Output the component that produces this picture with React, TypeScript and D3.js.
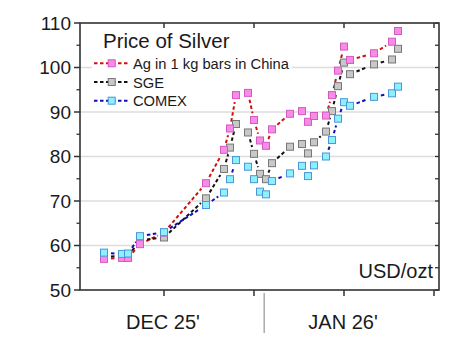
import React from "react";
import * as d3 from "d3";

// Data (day index: Dec N = N, Jan N = 31 + N)
const days = [3, 6, 7, 9, 13, 20, 23, 24, 25, 27, 28, 29, 30, 31, 34, 36, 37, 38, 40, 41, 42, 43, 44, 48, 51, 52];
const china = [57.0, 57.2, 57.2, 60.3, 62.9, 74.0, 81.5, 86.3, 93.8, 94.3, 88.2, 83.6, 82.4, 86.1, 89.6, 90.2, 87.8, 89.1, 89.2, 93.8, 99.3, 104.7, 101.7, 103.2, 105.8, 108.2];
const sge = [57.5, 57.6, 57.6, 61.2, 61.8, 70.6, 77.2, 82.0, 87.3, 85.4, 80.6, 76.1, 74.9, 78.5, 82.2, 82.8, 80.7, 83.2, 85.6, 90.2, 95.8, 101.1, 98.5, 100.7, 101.8, 104.2];
const comex = [58.4, 58.1, 58.2, 62.1, 63.0, 69.1, 71.9, 74.9, 79.2, 77.7, 74.9, 72.1, 71.5, 74.5, 76.2, 77.9, 75.6, 78.0, 80.0, 83.7, 88.5, 92.2, 91.4, 93.4, 94.2, 95.7];

const seriesNames = ["Ag in 1 kg bars in China", "SGE", "COMEX"];
const yTicks = [50, 60, 70, 80, 90, 100, 110];
const yMinorTicks = [55, 65, 75, 85, 95, 105];
const gridValues = [60, 70, 80, 90, 100];
const xTicks = [13, 28, 43, 58];
const monthLabels = ["DEC 25'", "JAN 26'"];
const monthLabelDays = [13, 43];
const monthSeparatorDay = 29.7;
const title = "Price of Silver";
const unitLabel = "USD/ozt";

const styles = [
  { line: "#d01010", fill: "#f78be6", stroke: "#d35ac4" },
  { line: "#111111", fill: "#c8c8c8", stroke: "#777777" },
  { line: "#1010b0", fill: "#8cf0ff", stroke: "#4a96d6" },
];

const FONT = "'Liberation Sans', Arial, sans-serif";

export default function App() {
  const W = 465, H = 340;
  const left = 80, right = 439, top = 23, bottom = 290;
  const x = d3.scaleLinear().domain([-1, 59]).range([80, 440]);
  const y = d3.scaleLinear().domain([50, 110]).range([bottom, top]);

  const series = [china, sge, comex];
  const gap = 7;

  const segments = (s: number[]) => {
    const pts = days.map((d, j) => [x(d), y(s[j])] as [number, number]);
    const out: { x1: number; y1: number; x2: number; y2: number }[] = [];
    for (let j = 0; j < pts.length - 1; j++) {
      const [ax, ay] = pts[j];
      const [bx, by] = pts[j + 1];
      const len = Math.hypot(bx - ax, by - ay);
      if (len <= 2 * gap + 1) continue;
      const ux = (bx - ax) / len, uy = (by - ay) / len;
      out.push({ x1: ax + ux * gap, y1: ay + uy * gap, x2: bx - ux * gap, y2: by - uy * gap });
    }
    return out;
  };

  const ms = 7;
  const drawOrder = [1, 0, 2];
  const axisColor = "#333";
  const textColor = "#1a1a1a";

  return (
    <svg width={W} height={H} style={{ position: "absolute", left: 0, top: 0, background: "#fff" }} fontFamily={FONT}>
      <rect x={0} y={0} width={W} height={H} fill="#fff" />
      {/* grid */}
      {gridValues.map((v) => (
        <line key={"g" + v} x1={left} x2={right} y1={y(v)} y2={y(v)} stroke="#dcdcdc" strokeWidth={1.5} />
      ))}
      {/* legend background */}
      <rect x={92} y={27} width={200} height={82} fill="#fff" />
      {/* lines */}
      {series.map((s, i) =>
        segments(s).map((sg, k) => (
          <line
            key={"l" + i + "-" + k}
            x1={sg.x1}
            y1={sg.y1}
            x2={sg.x2}
            y2={sg.y2}
            stroke={styles[i].line}
            strokeWidth={2}
            strokeDasharray="3.5,2.5"
          />
        ))
      )}
      {/* markers */}
      {drawOrder.map((i) =>
        days.map((d, j) => (
          <rect
            key={"m" + i + "-" + j}
            x={x(d) - ms / 2}
            y={y(series[i][j]) - ms / 2}
            width={ms}
            height={ms}
            fill={styles[i].fill}
            stroke={styles[i].stroke}
            strokeWidth={1}
          />
        ))
      )}
      {/* frame */}
      <rect x={left} y={top} width={right - left} height={bottom - top} fill="none" stroke={axisColor} strokeWidth={1.6} />
      {/* left ticks */}
      {yTicks.map((v) => (
        <g key={"yt" + v}>
          <line x1={left - 6} x2={left} y1={y(v)} y2={y(v)} stroke={axisColor} strokeWidth={1.5} />
          <text x={71} y={y(v)} dy="0.36em" textAnchor="end" fontSize={19} fill={textColor}>
            {v}
          </text>
        </g>
      ))}
      {yMinorTicks.map((v) => (
        <line key={"ym" + v} x1={left - 3.5} x2={left} y1={y(v)} y2={y(v)} stroke={axisColor} strokeWidth={1.3} />
      ))}
      {/* right inner ticks */}
      {[...yTicks, ...yMinorTicks].map((v) => (
        <line key={"yr" + v} x1={right - 4} x2={right} y1={y(v)} y2={y(v)} stroke={axisColor} strokeWidth={1.3} />
      ))}
      {/* x ticks */}
      {xTicks.map((d) => (
        <g key={"xt" + d}>
          <line x1={x(d)} x2={x(d)} y1={bottom} y2={bottom + 6} stroke={axisColor} strokeWidth={1.5} />
          <line x1={x(d)} x2={x(d)} y1={top} y2={top + 5} stroke={axisColor} strokeWidth={1.5} />
        </g>
      ))}
      {/* month labels */}
      {monthLabels.map((m, i) => (
        <text key={"ml" + i} x={x(monthLabelDays[i]) - 1} y={329} textAnchor="middle" fontSize={20} fill={textColor}>
          {m}
        </text>
      ))}
      <line x1={x(monthSeparatorDay)} x2={x(monthSeparatorDay)} y1={293} y2={333} stroke="#aaa" strokeWidth={1.5} />
      {/* unit */}
      <text x={433} y={278} textAnchor="end" fontSize={20} fill={textColor}>
        {unitLabel}
      </text>
      {/* legend */}
      <text x={103} y={48} fontSize={20.5} fill={textColor}>
        {title}
      </text>
      {seriesNames.map((n, i) => {
        const cy = 63.3 + i * 18.7;
        return (
          <g key={"lg" + i}>
            <line x1={94} x2={129} y1={cy} y2={cy} stroke={styles[i].line} strokeWidth={2} strokeDasharray="3.5,2.5" />
            <rect x={111.7 - ms / 2} y={cy - ms / 2} width={ms} height={ms} fill={styles[i].fill} stroke={styles[i].stroke} strokeWidth={1} />
            <text x={133} y={cy + 5.5} fontSize={14.7} fill={textColor}>
              {n}
            </text>
          </g>
        );
      })}
    </svg>
  );
}
